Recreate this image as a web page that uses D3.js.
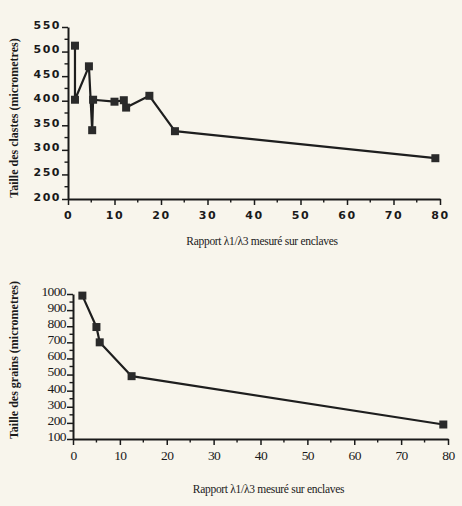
<!DOCTYPE html>
<html><head><meta charset="utf-8">
<script src="https://cdn.jsdelivr.net/npm/d3@7"></script>
<style>
body{margin:0;background:#f8f5ec;}
svg{display:block;}
.sans text{font-family:"DejaVu Sans",sans-serif;font-weight:bold;font-size:11px;letter-spacing:1.5px;fill:#1a1a1a;}
.serif text{font-family:"Liberation Serif",serif;font-size:13.5px;fill:#1a1a1a;letter-spacing:-0.6px;}
</style></head>
<body>
<script>
// Top chart: Taille des clastes
const clastRatio = [1.5, 1.5, 4.5, 5.2, 5.4, 10, 12, 12.5, 17.5, 23, 79];
const clastSize  = [512, 402, 470, 340, 402, 398, 401, 386, 410, 338, 283];
// Bottom chart: Taille des grains
const grainRatio = [2, 5, 5.7, 12.5, 79];
const grainSize  = [990, 795, 700, 490, 190];

const xTicks = [0,10,20,30,40,50,60,70,80];
const clastYTicks = [200,250,300,350,400,450,500,550];
const grainYTicks = [100,200,300,400,500,600,700,800,900,1000];

const xTitle = "Rapport λ1/λ3 mesuré sur enclaves";
const clastYTitle = "Taille des clastes (micrometres)";
const grainYTitle = "Taille des grains (micrometres)";

const W = 462, H = 506;
const svg = d3.select("body").append("svg").attr("width", W).attr("height", H);
svg.append("rect").attr("width", W).attr("height", H).attr("fill", "#f8f5ec");

function drawChart(cfg){
  const g = svg.append("g").attr("class", cfg.cls);
  const x = d3.scaleLinear().domain([0,80]).range([cfg.x0, cfg.x1]);
  const y = d3.scaleLinear().domain(cfg.yDomain).range([cfg.y0, cfg.y1]);
  const xMinor = d3.range(5, 80, 10);
  g.append("g").selectAll("line").data(xMinor).join("line")
    .attr("x1", d=>x(d)).attr("x2", d=>x(d)).attr("y1", cfg.y0).attr("y2", cfg.y0+3.5)
    .attr("stroke", "#1a1a1a").attr("stroke-width", 1.4);
  const yMinor = d3.range(cfg.yDomain[0]+cfg.yStep/2, cfg.yDomain[1], cfg.yStep);
  g.append("g").selectAll("line").data(yMinor).join("line")
    .attr("x1", cfg.x0-3.5).attr("x2", cfg.x0).attr("y1", d=>y(d)).attr("y2", d=>y(d))
    .attr("stroke", "#1a1a1a").attr("stroke-width", 1.4);

  const xAxis = g.append("g").attr("transform", `translate(0,${cfg.y0})`)
    .call(d3.axisBottom(x).tickValues(xTicks).tickSize(6).tickPadding(cfg.xPad).tickSizeOuter(0).tickFormat(d3.format("d")));
  const yAxis = g.append("g").attr("transform", `translate(${cfg.x0},0)`)
    .call(d3.axisLeft(y).tickValues(cfg.yTicks).tickSize(6).tickPadding(1).tickSizeOuter(0).tickFormat(d3.format("d")));
  [xAxis, yAxis].forEach(a=>{
    a.select(".domain").attr("stroke", "#1a1a1a").attr("stroke-width", 2);
    a.selectAll(".tick line").attr("stroke", "#1a1a1a").attr("stroke-width", 1.5);
    a.attr("font-family", null).attr("font-size", null);
  });
  yAxis.selectAll(".tick text").attr("dy", "0.1em");

  const line = d3.line().x(d=>x(d[0])).y(d=>y(d[1]));
  const pts = cfg.xs.map((v,i)=>[v, cfg.ys[i]]);
  g.append("path").datum(pts).attr("d", line).attr("fill", "none")
    .attr("stroke", "#1e1e1e").attr("stroke-width", 2.2).attr("stroke-linejoin", "round");
  g.append("g").selectAll("rect").data(pts).join("rect")
    .attr("x", d=>x(d[0])-4).attr("y", d=>y(d[1])-4).attr("width", 8).attr("height", 8)
    .attr("fill", "#2a2a2a");

  svg.append("text").attr("x", (cfg.x0+cfg.x1)/2 + 8).attr("y", cfg.xTitleY)
    .attr("text-anchor", "middle").attr("font-family", "Liberation Serif, serif")
    .attr("font-size", 11.5).attr("letter-spacing", "-0.3px").attr("fill", "#1a1a1a").text(xTitle);
  svg.append("text").attr("transform", `translate(${cfg.yTitleX},${cfg.yTitleC}) rotate(-90)`)
    .attr("text-anchor", "middle").attr("font-family", "Liberation Serif, serif")
    .attr("font-size", 12).attr("font-weight", "bold").attr("fill", "#1a1a1a").text(cfg.yTitle);
}

drawChart({cls:"sans", x0:68, x1:440, y0:199, y1:27, yDomain:[200,550], yStep:50,
  yTicks:clastYTicks, xs:clastRatio, ys:clastSize, xPad:6, xTitleY:245,
  yTitleX:18, yTitleC:118, yTitle:clastYTitle});
drawChart({cls:"serif", x0:73, x1:448, y0:439, y1:294, yDomain:[100,1000], yStep:100,
  yTicks:grainYTicks, xs:grainRatio, ys:grainSize, xPad:5, xTitleY:493,
  yTitleX:18, yTitleC:360, yTitle:grainYTitle});
</script>
</body></html>
